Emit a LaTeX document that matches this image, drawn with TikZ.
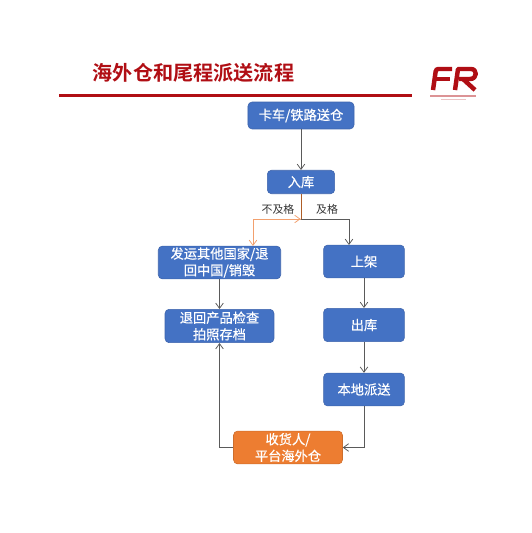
\documentclass[tikz,border=0pt]{standalone}
\usepackage{fontspec}
\setmainfont[BoldFont={Noto Sans CJK SC Bold}]{Noto Sans CJK SC}
\newfontfamily\boxfont[FakeBold=0.6]{Noto Sans CJK SC}
\usetikzlibrary{decorations.markings,arrows,arrows.meta}

\definecolor{frred}{RGB}{176,14,20}
\definecolor{boxblue}{RGB}{68,114,196}
\definecolor{boxedge}{RGB}{62,100,172}
\definecolor{boxorange}{RGB}{237,125,49}
\definecolor{edgeorange}{RGB}{205,110,45}
\definecolor{linegray}{RGB}{90,90,90}
\definecolor{lineorange}{RGB}{242,160,110}

\tikzset{
	flowbox/.style={draw=boxedge, fill=boxblue, rounded corners=3.5pt, text=white, align=center,
		font=\fontsize{11.3}{14.2}\selectfont\boxfont, inner sep=0pt, line width=0.5pt},
	flowline/.style={draw=linegray, line width=0.65pt, -{Straight Barb[length=4.5pt, width=6.5pt]}},
	passlabel/.style={font=\fontsize{9.3}{11}\selectfont, text=black!80}
}

\begin{document}
\begin{tikzpicture}[x=0.03cm, y=-0.03cm]
		\useasboundingbox (0, 0) rectangle (531, 533);

		% heading and rule
		\node (title) at (193.5, 73) [text=frred, font=\fontsize{17.2}{20}\selectfont\bfseries] {海外仓和尾程派送流程};
		\fill [frred] (59, 93.5) rectangle (411.5, 97);

		% logo
		\draw [frred, line width=3.8pt, rounded corners=2pt] (433, 90) -- (436, 69) -- (452, 69);
		\draw [frred, line width=3.8pt] (435, 79) -- (450, 79);
		\draw [frred, line width=3.8pt, line join=round] (455, 90) -- (458, 69) -- (471, 69)
			.. controls (477.5, 69) and (477.5, 79) .. (470, 79) -- (459, 79);
		\draw [frred, line width=3.8pt] (463, 79) -- (475, 90);
		\draw [frred!45, line width=1.2pt] (430, 96) -- (476, 96);
		\draw [frred!25, line width=0.8pt] (441, 99) -- (466, 99);

		% steps
		\node (truck) at (301, 115.5) [flowbox, minimum width=90.5pt, minimum height=23pt] {卡车/铁路送仓};
		\node (inbound) at (301, 182) [flowbox, minimum width=57.5pt, minimum height=20pt] {入库};
		\node (resend) at (219.5, 262.5) [flowbox, minimum width=104.5pt, minimum height=28pt] {发运其他国家/退\\回中国/销毁};
		\node (shelf) at (364, 261.5) [flowbox, minimum width=69pt, minimum height=28pt] {上架};
		\node (check) at (219.5, 326) [flowbox, minimum width=93pt, minimum height=28.5pt] {退回产品检查\\拍照存档};
		\node (outbound) at (364, 325) [flowbox, minimum width=69pt, minimum height=28.5pt] {出库};
		\node (delivery) at (364, 389.5) [flowbox, minimum width=69pt, minimum height=28pt] {本地派送};
		\node (receiver) at (288, 447.5) [flowbox, draw=edgeorange, fill=boxorange, minimum width=93pt, minimum height=28pt] {收货人/\\平台海外仓};

		% pass / fail split under the inbound box
		\coordinate (split) at (inbound.south |- 0, 219);
		\coordinate (failturn) at (253, 219);
		\coordinate (passturn) at (349, 219);
		\coordinate (failend) at (253, 246);
		\coordinate (passend) at (349, 245);
		\draw [flowline] (truck) -- (inbound);
		\draw [flowline] (split) -- (passturn) -- (passend);
		\draw [flowline, draw=lineorange, decoration={markings, mark=at position 0.09 with {\arrow{Straight Barb[reversed, length=4.5pt, width=6.5pt]}}}, postaction={decorate}]
			(split) -- (failturn) -- (failend);
		\draw [flowline, -, draw=edgeorange!85!black] (inbound.south) -- (split);
		\node (faillabel) at (278, 209.5) [passlabel] {不及格};
		\node (passlabel) at (327, 209.5) [passlabel] {及格};

		\draw [flowline] (resend) -- (check);
		\draw [flowline] (shelf) -- (outbound);
		\draw [flowline] (outbound) -- (delivery);
		\draw [flowline] (delivery.south) |- (receiver.east);
		\draw [flowline] (receiver.west) -| (check.south);
	\end{tikzpicture}
\end{document}
